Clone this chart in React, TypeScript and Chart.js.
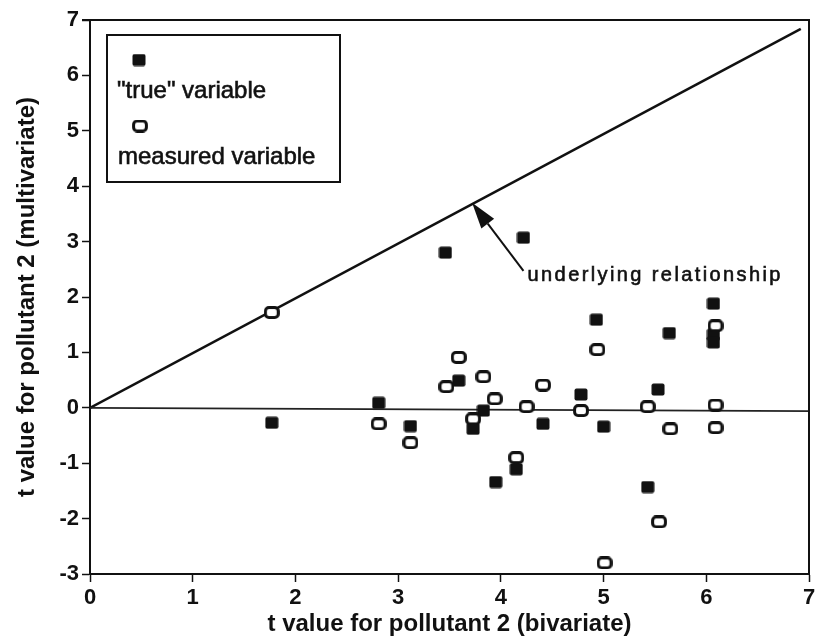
import React, { useEffect, useRef } from "react";
import { Chart, registerables } from "chart.js";

Chart.register(...registerables);

// ---- data ----
const trueX = [1.77, 2.81, 3.12, 3.46, 3.59, 3.73, 3.83, 3.95, 4.15, 4.22, 4.41, 4.78, 4.93, 5.0, 5.43, 5.53, 5.64, 6.07, 6.07, 6.07];
const trueY = [-0.27, 0.09, -0.33, 2.8, 0.49, -0.38, -0.05, -1.34, -1.11, 3.07, -0.29, 0.24, 1.59, -0.34, -1.43, 0.33, 1.35, 1.88, 1.32, 1.18];

const measuredX = [1.77, 2.81, 3.12, 3.47, 3.59, 3.73, 3.83, 3.94, 4.15, 4.25, 4.41, 4.78, 4.94, 5.01, 5.43, 5.54, 5.65, 6.09, 6.09, 6.09];
const measuredY = [1.72, -0.29, -0.63, 0.38, 0.91, -0.2, 0.56, 0.16, -0.9, 0.02, 0.41, -0.05, 1.05, -2.8, 0.02, -2.06, -0.38, 1.48, 0.05, -0.36];

const relationX = [0, 6.92];
const relationY = [0, 6.84];
const zeroX = [0, 7];
const zeroY = [0, -0.06];

const xRange = [0, 7];
const yRange = [-3, 7];

const legendLabels = ['"true" variable', "measured variable"];
const annotationText = "underlying relationship";
const arrowTail = [4.22, 2.47];
const arrowHead = [3.72, 3.7];
const annotationAt = [4.26, 2.29];

const xTitle = "t value for pollutant 2 (bivariate)";
const yTitle = "t value for pollutant 2 (multivariate)";

const FONT = "'Liberation Sans', Arial, Helvetica, sans-serif";

function makeMarker(filled: boolean): HTMLCanvasElement {
  const c = document.createElement("canvas");
  const w = filled ? 14 : 16;
  const h = 13;
  c.width = w;
  c.height = h;
  const ctx = c.getContext("2d")!;
  ctx.beginPath();
  if (filled) {
    ctx.roundRect(0.5, 0.5, w - 1, h - 1, 2);
    ctx.fillStyle = "#111";
    ctx.fill();
  } else {
    ctx.roundRect(1.6, 1.6, w - 3.2, h - 3.2, 3.5);
    ctx.fillStyle = "#fff";
    ctx.fill();
    ctx.lineWidth = 3;
    ctx.strokeStyle = "#111";
    ctx.stroke();
  }
  return c;
}

function boldishText(ctx: CanvasRenderingContext2D, text: string, x: number, y: number) {
  ctx.fillText(text, x, y);
  ctx.lineWidth = 0.6;
  ctx.strokeText(text, x, y);
}

export default function App() {
  const ref = useRef<HTMLCanvasElement | null>(null);

  useEffect(() => {
    document.body.style.margin = "0";
    const canvas = ref.current;
    if (!canvas) return;
    const filledMarker = makeMarker(true);
    const openMarker = makeMarker(false);

    const framePlugin = {
      id: "frame",
      afterDraw(chart: any) {
        const { ctx, chartArea } = chart;
        const { left, right, top, bottom } = chartArea;
        ctx.save();
        ctx.strokeStyle = "#111";
        ctx.lineWidth = 2;
        ctx.beginPath();
        ctx.moveTo(left - 8, top);
        ctx.lineTo(right, top);
        ctx.lineTo(right, bottom);
        ctx.stroke();

        // legend box
        const bx = left + 17;
        const by = top + 15;
        const bw = 233;
        const bh = 147;
        ctx.lineWidth = 2;
        ctx.strokeRect(bx, by, bw, bh);
        ctx.drawImage(filledMarker, left + 49 - filledMarker.width / 2, top + 40 - filledMarker.height / 2);
        ctx.drawImage(openMarker, left + 50 - openMarker.width / 2, top + 106 - openMarker.height / 2);
        ctx.fillStyle = "#111";
        ctx.font = `24px ${FONT}`;
        ctx.textBaseline = "middle";
        ctx.textAlign = "left";
        boldishText(ctx, legendLabels[0], left + 27, top + 71);
        boldishText(ctx, legendLabels[1], left + 28, top + 137);

        // annotation arrow
        const xs = chart.scales.x;
        const ys = chart.scales.y;
        const tx = xs.getPixelForValue(arrowTail[0]);
        const ty = ys.getPixelForValue(arrowTail[1]);
        const hx = xs.getPixelForValue(arrowHead[0]);
        const hy = ys.getPixelForValue(arrowHead[1]);
        const ang = Math.atan2(hy - ty, hx - tx);
        const headLen = 26;
        const headHalf = 8;
        const bxh = hx - Math.cos(ang) * headLen;
        const byh = hy - Math.sin(ang) * headLen;
        ctx.lineWidth = 2;
        ctx.beginPath();
        ctx.moveTo(tx, ty);
        ctx.lineTo(bxh, byh);
        ctx.stroke();
        ctx.beginPath();
        ctx.moveTo(hx, hy);
        ctx.lineTo(bxh + Math.sin(ang) * headHalf, byh - Math.cos(ang) * headHalf);
        ctx.lineTo(bxh - Math.sin(ang) * headHalf, byh + Math.cos(ang) * headHalf);
        ctx.closePath();
        ctx.fill();

        ctx.font = `20px ${FONT}`;
        (ctx as any).letterSpacing = "2.4px";
        ctx.textBaseline = "alphabetic";
        boldishText(ctx, annotationText, xs.getPixelForValue(annotationAt[0]), ys.getPixelForValue(annotationAt[1]));
        (ctx as any).letterSpacing = "0px";
        ctx.restore();
      },
    };

    const chart = new Chart(canvas, {
      type: "scatter",
      data: {
        datasets: [
          {
            label: legendLabels[1],
            data: measuredX.map((x, i) => ({ x, y: measuredY[i] })),
            pointStyle: openMarker as any,
            pointRadius: 7,
          },
          {
            label: legendLabels[0],
            data: trueX.map((x, i) => ({ x, y: trueY[i] })),
            pointStyle: filledMarker as any,
            pointRadius: 7,
          },
          {
            type: "line",
            label: "zero",
            data: zeroX.map((x, i) => ({ x, y: zeroY[i] })),
            borderColor: "#222",
            borderWidth: 1.8,
            pointRadius: 0,
            fill: false,
          } as any,
          {
            type: "line",
            label: annotationText,
            data: relationX.map((x, i) => ({ x, y: relationY[i] })),
            borderColor: "#111",
            borderWidth: 2.5,
            pointRadius: 0,
            fill: false,
          } as any,
        ],
      },
      options: {
        animation: false,
        responsive: true,
        maintainAspectRatio: false,
        layout: { padding: { left: 0, top: 20, right: 11, bottom: 0 } },
        plugins: {
          legend: { display: false },
          tooltip: { enabled: false },
        },
        scales: {
          x: {
            type: "linear",
            min: xRange[0],
            max: xRange[1],
            afterFit: (s: any) => {
              s.height = 70;
            },
            ticks: {
              stepSize: 1,
              color: "#111",
              padding: 3,
              font: { family: FONT, size: 22, weight: "bold" },
            },
            grid: {
              drawOnChartArea: false,
              drawTicks: true,
              tickLength: 8,
              tickColor: "#111",
              tickWidth: 1.5,
            },
            border: { display: true, color: "#111", width: 2 },
            title: {
              display: true,
              text: xTitle,
              color: "#111",
              font: { family: FONT, size: 24, weight: "bold" },
              padding: { top: 0, bottom: 5 },
            },
          },
          y: {
            type: "linear",
            min: yRange[0],
            max: yRange[1],
            afterFit: (s: any) => {
              s.width = 90;
            },
            ticks: {
              stepSize: 1,
              color: "#111",
              padding: 3,
              font: { family: FONT, size: 22, weight: "bold" },
            },
            grid: {
              drawOnChartArea: false,
              drawTicks: true,
              tickLength: 8,
              tickColor: "#111",
              tickWidth: 1.5,
            },
            border: { display: true, color: "#111", width: 2 },
            title: {
              display: true,
              text: yTitle,
              color: "#111",
              font: { family: FONT, size: 24, weight: "bold" },
              padding: { top: 13, bottom: 0 },
            },
          },
        },
      },
      plugins: [framePlugin],
    });

    return () => chart.destroy();
  }, []);

  return (
    <div style={{ width: 820, height: 644, position: "relative", background: "#fff" }}>
      <canvas ref={ref} />
    </div>
  );
}
